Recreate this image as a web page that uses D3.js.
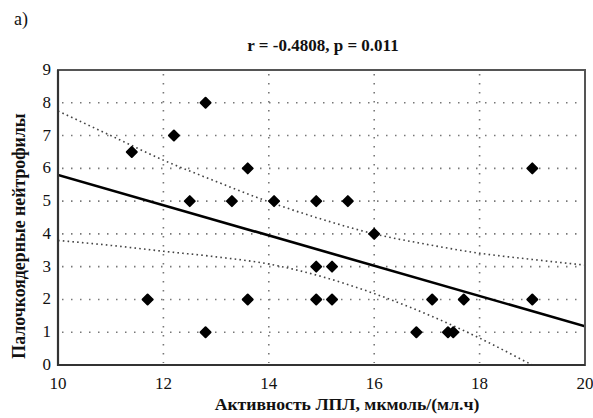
<!DOCTYPE html>
<html>
<head>
<meta charset="utf-8">
<script src="https://cdn.jsdelivr.net/npm/d3@7"></script>
<style>
  body { margin: 0; background: #fff; }
</style>
</head>
<body>
<svg id="canvas" width="593" height="418"></svg>
<script>
// scatter points
let lplActivity = [11.4, 11.7, 12.2, 12.5, 12.8, 12.8, 13.3, 13.6, 13.6, 14.1, 14.9, 14.9,
                   14.9, 15.2, 15.2, 15.5, 16.0, 16.8, 17.1, 17.4, 17.5, 17.7, 19.0, 19.0]
let bandNeutrophils = [6.5, 2, 7, 5, 8, 1, 5, 6, 2, 5, 5, 3,
                       2, 3, 2, 5, 4, 1, 2, 1, 1, 2, 6, 2]

// regression line and confidence band
let fitX = [10, 20]
let fitY = [5.8, 1.18]
let bandX = [10, 11, 12, 13, 14, 15, 16, 17, 18, 19, 20]
let upperBand = [7.75, 7.0, 6.25, 5.6, 4.98, 4.45, 4.0, 3.68, 3.41, 3.22, 3.05]
let lowerBand = [3.8, 3.65, 3.47, 3.3, 3.08, 2.7, 2.18, 1.55, 0.82, 0.0, -0.8]

let xTicks = [10, 12, 14, 16, 18, 20]
let yTicks = [0, 1, 2, 3, 4, 5, 6, 7, 8, 9]
let xGrid = [12, 14, 16, 18]
let yGrid = [1, 2, 3, 4, 5, 6, 7, 8]

let serif = '"Liberation Serif", "DejaVu Serif", serif'

let canvas = d3.select('#canvas')

let plotLeft = 58, plotRight = 585, plotTop = 70, plotBottom = 365

let xScale = d3.scaleLinear().domain([10, 20]).range([plotLeft, plotRight])
let yScale = d3.scaleLinear().domain([0, 9]).range([plotBottom, plotTop])

canvas.append('defs').append('clipPath').attr('id', 'plotClip')
      .append('rect')
      .attr('x', plotLeft).attr('y', plotTop)
      .attr('width', plotRight - plotLeft).attr('height', plotBottom - plotTop)

// grid
canvas.append('g').selectAll('line')
      .data(yGrid).enter().append('line')
      .attr('x1', plotLeft + 4).attr('x2', plotRight)
      .attr('y1', (d) => yScale(d)).attr('y2', (d) => yScale(d))
      .attr('stroke', '#777').attr('stroke-width', 1.6)
      .attr('stroke-dasharray', '1.5,7.5')

canvas.append('g').selectAll('line')
      .data(xGrid).enter().append('line')
      .attr('x1', (d) => xScale(d)).attr('x2', (d) => xScale(d))
      .attr('y1', plotTop + 4).attr('y2', plotBottom - 2)
      .attr('stroke', '#777').attr('stroke-width', 1.6)
      .attr('stroke-dasharray', '1.5,7.5')

let plot = canvas.append('g').attr('clip-path', 'url(#plotClip)')

let bandLine = (values) => {
  return d3.line()
           .x((d, i) => xScale(bandX[i]))
           .y((d) => yScale(d))
           .curve(d3.curveMonotoneX)(values)
}

plot.selectAll('path.band')
    .data([upperBand, lowerBand]).enter().append('path')
    .attr('class', 'band')
    .attr('d', (d) => bandLine(d))
    .attr('fill', 'none')
    .attr('stroke', '#444').attr('stroke-width', 1.6)
    .attr('stroke-dasharray', '1.6,3.2')

plot.append('line')
    .attr('x1', xScale(fitX[0])).attr('y1', yScale(fitY[0]))
    .attr('x2', xScale(fitX[1])).attr('y2', yScale(fitY[1]))
    .attr('stroke', '#000').attr('stroke-width', 2.6)

// points
canvas.append('g').selectAll('path')
      .data(lplActivity).enter().append('path')
      .attr('d', d3.symbol().type(d3.symbolSquare).size(50))
      .attr('transform', (d, i) => 'translate(' + xScale(d) + ',' + yScale(bandNeutrophils[i]) + ') rotate(45)')
      .attr('fill', '#000')
      .attr('stroke', '#000').attr('stroke-width', 2).attr('stroke-linejoin', 'round')

// frame
canvas.append('rect')
      .attr('x', plotLeft).attr('y', plotTop)
      .attr('width', plotRight - plotLeft).attr('height', plotBottom - plotTop)
      .attr('fill', 'none').attr('stroke', '#555').attr('stroke-width', 2)

canvas.append('path')
      .attr('d', 'M' + plotLeft + ',' + plotTop + 'V' + plotBottom + 'H' + plotRight)
      .attr('fill', 'none').attr('stroke', '#333').attr('stroke-width', 2.2)

// tick labels
canvas.append('g').selectAll('text')
      .data(yTicks).enter().append('text')
      .attr('x', plotLeft - 7).attr('y', (d) => yScale(d) + 5)
      .attr('text-anchor', 'end')
      .attr('font-family', serif).attr('font-size', 17).attr('fill', '#111')
      .text((d) => d)

canvas.append('g').selectAll('text')
      .data(xTicks).enter().append('text')
      .attr('x', (d) => xScale(d)).attr('y', plotBottom + 24)
      .attr('text-anchor', 'middle')
      .attr('font-family', serif).attr('font-size', 17).attr('fill', '#111')
      .text((d) => d)

// titles
canvas.append('text')
      .attr('x', 14).attr('y', 25)
      .attr('font-family', serif).attr('font-size', 18).attr('fill', '#111')
      .text('a)')

canvas.append('text')
      .attr('x', 323).attr('y', 51)
      .attr('text-anchor', 'middle')
      .attr('font-family', serif).attr('font-size', 17).attr('font-weight', 'bold').attr('fill', '#111')
      .text('r = -0.4808, p = 0.011')

canvas.append('text')
      .attr('x', 347).attr('y', 410)
      .attr('text-anchor', 'middle')
      .attr('font-family', serif).attr('font-size', 17.7).attr('font-weight', 'bold').attr('fill', '#111')
      .text('Активность ЛПЛ, мкмоль/(мл.ч)')

canvas.append('text')
      .attr('transform', 'translate(25,236) rotate(-90)')
      .attr('text-anchor', 'middle')
      .attr('font-family', serif).attr('font-size', 17.8).attr('font-weight', 'bold').attr('fill', '#111')
      .text('Палочкоядерные нейтрофилы')
</script>
</body>
</html>
